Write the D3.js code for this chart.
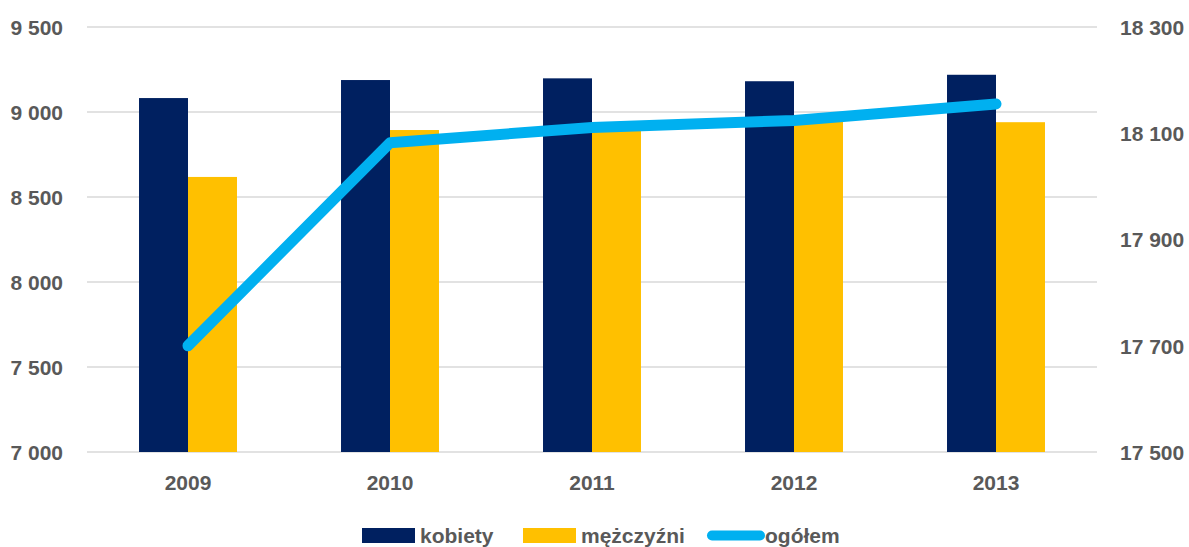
<!DOCTYPE html>
<html>
<head>
<meta charset="utf-8">
<script src="https://cdn.jsdelivr.net/npm/d3@7"></script>
<style>
  html, body { margin: 0; padding: 0; background: #fff; }
  svg text { font-family: "Liberation Sans", Arial, sans-serif; font-weight: bold; fill: #595959; }
</style>
</head>
<body>
<svg id="chart" width="1189" height="547"></svg>
<script>
const years = ["2009", "2010", "2011", "2012", "2013"];
const kobiety = [9082, 9188, 9198, 9181, 9219];
const mezczyzni = [8618, 8894, 8913, 8943, 8940];
const ogolem = [17700, 18082, 18111, 18124, 18155];
const leftTicks = [7000, 7500, 8000, 8500, 9000, 9500];
const rightTicks = [17500, 17700, 17900, 18100, 18300];
const seriesNames = ["kobiety", "mężczyźni", "ogółem"];
const colors = { kobiety: "#002060", "mężczyźni": "#FFC000", "ogółem": "#00B0F0" };

const svg = d3.select("#chart");
const plot = { left: 87, right: 1097, top: 27, bottom: 452 };
const FS = 21;

const fmt = v => d3.format(",")(v).replace(/,/g, " ");

const x0 = d3.scaleBand().domain(years).range([plot.left, plot.right]).paddingInner(0.515).paddingOuter(0.2575);
const x1 = d3.scaleBand().domain(["kobiety", "mężczyźni"]).range([0, x0.bandwidth()]);
const yL = d3.scaleLinear().domain([7000, 9500]).range([plot.bottom, plot.top]);
const yR = d3.scaleLinear().domain([17500, 18300]).range([plot.bottom, plot.top]);

// gridlines
svg.append("g").selectAll("line").data(leftTicks).join("line")
  .attr("x1", plot.left).attr("x2", plot.right)
  .attr("y1", d => yL(d)).attr("y2", d => yL(d))
  .attr("stroke", "#D9D9D9").attr("stroke-width", 1.5);

function styleText(sel) {
  sel.attr("font-size", FS)
    .style("font-family", "'Liberation Sans', Arial, sans-serif")
    .style("font-weight", "bold").attr("fill", "#595959");
}

// left axis
const axL = svg.append("g").attr("transform", `translate(${plot.left},0)`)
  .call(d3.axisLeft(yL).tickValues(leftTicks).tickFormat(fmt).tickSize(0).tickPadding(24));
axL.select(".domain").remove();
axL.selectAll("text").attr("dy", "0.35em").call(styleText);

// right axis
const axR = svg.append("g").attr("transform", `translate(${plot.right},0)`)
  .call(d3.axisRight(yR).tickValues(rightTicks).tickFormat(fmt).tickSize(0).tickPadding(23));
axR.select(".domain").remove();
axR.selectAll("text").attr("dy", "0.35em").call(styleText);

// bars
const rows = years.map((y, i) => ({ year: y, kobiety: kobiety[i], "mężczyźni": mezczyzni[i] }));
const groups = svg.append("g").selectAll("g").data(rows).join("g")
  .attr("transform", d => `translate(${x0(d.year)},0)`);
groups.selectAll("rect").data(d => ["kobiety", "mężczyźni"].map(k => ({ key: k, value: d[k] }))).join("rect")
  .attr("x", d => x1(d.key)).attr("width", x1.bandwidth())
  .attr("y", d => yL(d.value)).attr("height", d => plot.bottom - yL(d.value))
  .attr("fill", d => colors[d.key]);

// x axis
const axX = svg.append("g").attr("transform", `translate(0,${plot.bottom})`)
  .call(d3.axisBottom(x0).tickSize(0).tickPadding(23));
axX.select(".domain").remove();
axX.selectAll("text").call(styleText);

// line
const line = d3.line().x((d, i) => x0(years[i]) + x0.bandwidth() / 2).y(d => yR(d));
svg.append("path").datum(ogolem).attr("d", line)
  .attr("fill", "none").attr("stroke", colors["ogółem"]).attr("stroke-width", 11)
  .attr("stroke-linecap", "round").attr("stroke-linejoin", "round");

// legend
const lg = svg.append("g");
const legendItems = [
  { name: "kobiety", x: 362, type: "rect" },
  { name: "mężczyźni", x: 523, type: "rect" },
  { name: "ogółem", x: 707, type: "line" }
];
legendItems.forEach(it => {
  if (it.type === "rect") {
    lg.append("rect").attr("x", it.x).attr("y", 528).attr("width", 53).attr("height", 15).attr("fill", colors[it.name]);
  } else {
    lg.append("line").attr("x1", it.x + 5).attr("x2", it.x + 53).attr("y1", 535.5).attr("y2", 535.5)
      .attr("stroke", colors[it.name]).attr("stroke-width", 10).attr("stroke-linecap", "round");
  }
  lg.append("text").attr("x", it.x + 58).attr("y", 535.5).attr("dy", "0.35em")
    .call(styleText).text(it.name);
});
</script>
</body>
</html>
